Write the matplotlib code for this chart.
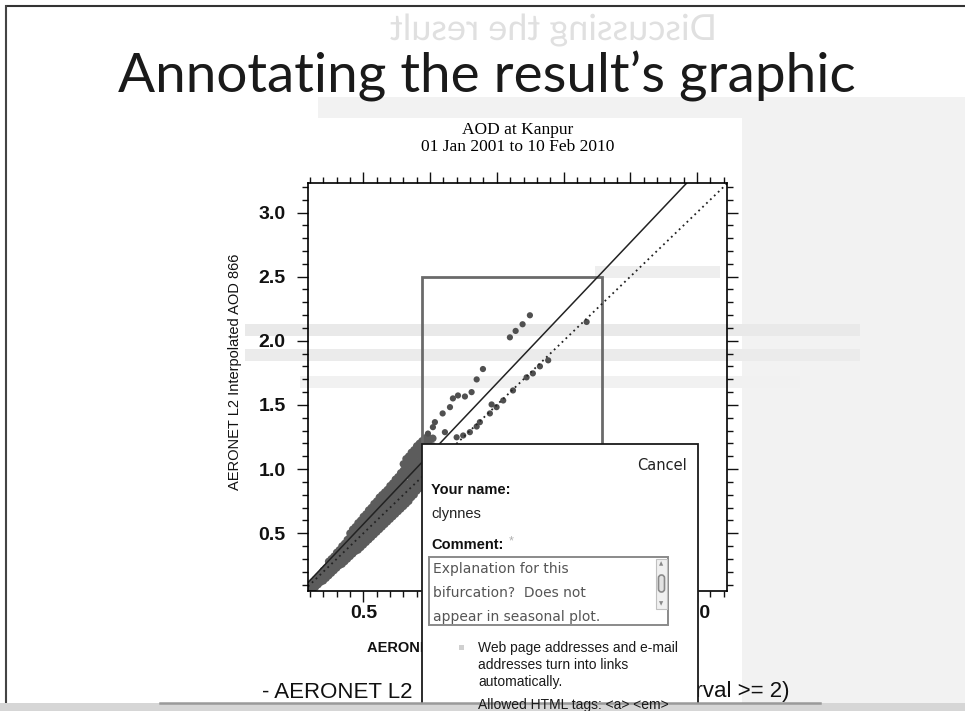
import numpy as np
import matplotlib.pyplot as plt
from matplotlib.patches import Rectangle, FancyBboxPatch, PathPatch
from matplotlib.textpath import TextPath
from matplotlib.font_manager import FontProperties
from matplotlib.transforms import Affine2D
from matplotlib.ticker import MultipleLocator

W, H = 965, 711

# -------------------------------
# Data
# -------------------------------
x_limits = (0.085, 3.225)
y_limits = (0.05, 3.23)
major_ticks = [0.5, 1.0, 1.5, 2.0, 2.5, 3.0]
x_tick_labels = ["0.5", "", "", "", "", "3.0"]   # the rest sit under the dialog
y_tick_labels = ["0.5", "1.0", "1.5", "2.0", "2.5", "3.0"]

# dense band below the bifurcation: (x, [y values])
band_columns = [
    (0.10, [0.06, 0.08]),
    (0.12, [0.07, 0.10, 0.12]),
    (0.14, [0.08, 0.11, 0.14]),
    (0.16, [0.10, 0.13, 0.16]),
    (0.18, [0.12, 0.15, 0.18]),
    (0.20, [0.13, 0.17, 0.21]),
    (0.22, [0.15, 0.19, 0.23]),
    (0.24, [0.17, 0.21, 0.25, 0.28]),
    (0.26, [0.19, 0.23, 0.27, 0.30]),
    (0.28, [0.21, 0.25, 0.29, 0.32]),
    (0.30, [0.23, 0.27, 0.31, 0.35]),
    (0.32, [0.25, 0.29, 0.33, 0.37]),
    (0.34, [0.26, 0.31, 0.36, 0.40]),
    (0.36, [0.28, 0.33, 0.38, 0.42]),
    (0.38, [0.30, 0.35, 0.40, 0.45]),
    (0.40, [0.32, 0.37, 0.42, 0.47, 0.50]),
    (0.42, [0.34, 0.39, 0.44, 0.49, 0.53]),
    (0.44, [0.36, 0.41, 0.46, 0.51, 0.55]),
    (0.46, [0.37, 0.43, 0.49, 0.54, 0.58]),
    (0.48, [0.39, 0.45, 0.51, 0.56, 0.60]),
    (0.50, [0.41, 0.47, 0.53, 0.58, 0.63]),
    (0.52, [0.43, 0.49, 0.55, 0.60, 0.65]),
    (0.54, [0.45, 0.51, 0.57, 0.63, 0.68]),
    (0.56, [0.47, 0.53, 0.59, 0.65, 0.70]),
    (0.58, [0.49, 0.55, 0.61, 0.67, 0.73]),
    (0.60, [0.51, 0.57, 0.63, 0.69, 0.75]),
    (0.62, [0.53, 0.59, 0.65, 0.72, 0.78]),
    (0.64, [0.55, 0.61, 0.67, 0.74, 0.80]),
    (0.66, [0.57, 0.63, 0.70, 0.76, 0.82]),
    (0.68, [0.59, 0.65, 0.72, 0.78, 0.84]),
    (0.70, [0.61, 0.67, 0.74, 0.81, 0.87]),
    (0.72, [0.63, 0.70, 0.76, 0.83, 0.89]),
    (0.74, [0.65, 0.72, 0.79, 0.86, 0.92]),
    (0.76, [0.67, 0.74, 0.81, 0.88, 0.94]),
    (0.78, [0.69, 0.76, 0.83, 0.90, 0.97]),
    (0.80, [0.71, 0.78, 0.85, 0.92, 0.99, 1.04]),
    (0.82, [0.73, 0.80, 0.87, 0.95, 1.02, 1.08]),
    (0.84, [0.75, 0.82, 0.89, 0.97, 1.04, 1.10]),
    (0.86, [0.78, 0.85, 0.92, 0.99, 1.06, 1.13]),
    (0.88, [0.80, 0.87, 0.94, 1.01, 1.08, 1.15]),
    (0.90, [0.83, 0.90, 0.97, 1.04, 1.11, 1.18]),
    (0.92, [0.85, 0.92, 0.99, 1.06, 1.13, 1.20]),
    (0.94, [0.88, 0.95, 1.02, 1.09, 1.16, 1.22]),
    (0.96, [0.92, 0.99, 1.06, 1.13, 1.20, 1.24]),
    (0.98, [1.05, 1.12, 1.19, 1.25]),
    (1.00, [1.12, 1.18, 1.23]),
    (1.02, [1.18, 1.24]),
]
band_x = [c[0] for c in band_columns for _ in c[1]]
band_y = [y for c in band_columns for y in c[1]]

# upper branch of the bifurcation
upper_x = [0.984, 1.021, 1.036, 1.094, 1.111, 1.149, 1.171, 1.209, 1.261,
           1.311, 1.349, 1.396, 1.598, 1.641, 1.693, 1.748]
upper_y = [1.277, 1.327, 1.366, 1.434, 1.288, 1.483, 1.551, 1.574, 1.566,
           1.600, 1.699, 1.780, 2.027, 2.077, 2.129, 2.199]

# lower branch (close to 1:1)
lower_x = [1.199, 1.248, 1.298, 1.349, 1.373, 1.448, 1.461, 1.498, 1.548,
           1.621, 1.723, 1.770, 1.823, 1.885, 2.173]
lower_y = [1.248, 1.262, 1.288, 1.332, 1.366, 1.434, 1.504, 1.483, 1.535,
           1.613, 1.715, 1.746, 1.801, 1.848, 2.147]

fit_slope, fit_intercept = 1.097, 0.023
zoom_box = (0.94, 1.19, 2.29, 2.50)   # x0, y0, x1, y1

slide_title = "Annotating the result\u2019s graphic"
ghost_title = "Discussing the result"
plot_title = ["AOD at Kanpur", "01 Jan 2001 to 10 Feb 2010"]
y_label = "AERONET L2 Interpolated AOD 866"
comment_lines = ["Explanation for this", "bifurcation?  Does not", "appear in seasonal plot."]
help_lines = ["Web page addresses and e-mail", "addresses turn into links", "automatically."]

# -------------------------------
# Figure and pixel-space layers
# -------------------------------
fig = plt.figure(figsize=(W / 100, H / 100), dpi=100)
fig.patch.set_facecolor("white")

bg = fig.add_axes([0, 0, 1, 1], zorder=0)
bg.set_xlim(0, W)
bg.set_ylim(H, 0)
bg.axis("off")

# ghost panels from the page behind
bg.add_patch(Rectangle((318, 97), W - 318, 606, facecolor="#f2f2f2", edgecolor="none"))
bg.add_patch(Rectangle((215, 118), 527, 585, facecolor="white", edgecolor="none"))
for y0, x0, x1, c in [(330, 245, 860, "#e9e9e9"), (355, 245, 860, "#ebebeb"),
                      (382, 300, 800, "#f1f1f1"), (272, 595, 720, "#eeeeee")]:
    bg.add_patch(Rectangle((x0, y0 - 6), x1 - x0, 12, facecolor=c, edgecolor="none"))

# mirrored show-through title
tp = TextPath((0, 0), ghost_title, size=36, prop=FontProperties(family="Lato"))
tr = Affine2D().scale(-1, -1).translate(717, 40) + bg.transData
bg.add_patch(PathPatch(tp, transform=tr, facecolor="#e0e0e0", edgecolor="none"))

# slide frame
bg.plot([8, W], [6, 6], color="#333333", lw=1.5)
bg.plot([6, 6], [6, 702], color="#444444", lw=1.5)

bg.text(487, 76, slide_title, ha="center", va="center", fontsize=39.5,
        family="Lato", color="#1a1a1a")
bg.text(517.5, 130, plot_title[0], ha="center", va="center", fontsize=12.5,
        family="Liberation Serif", color="#000000")
bg.text(517.5, 147, plot_title[1], ha="center", va="center", fontsize=12.5,
        family="Liberation Serif", color="#000000")
bg.text(235, 372, y_label, rotation=90, ha="center", va="center", fontsize=10.5,
        family="Liberation Sans", color="#111111")
bg.text(367, 648, "AERONET L2", ha="left", va="center", fontsize=10.5,
        family="Liberation Sans", fontweight="bold", color="#111111")
bg.text(262, 692, "- AERONET L2", ha="left", va="center", fontsize=16,
        family="Liberation Sans", color="#111111")
bg.text(790, 692, "(interval >= 2)", ha="right", va="center", fontsize=16,
        family="Liberation Sans", color="#111111")

# -------------------------------
# Scatter plot
# -------------------------------
ax = fig.add_axes([308 / W, (H - 591) / H, 419 / W, 408 / H], zorder=1)
ax.patch.set_alpha(0)
ax.set_xlim(*x_limits)
ax.set_ylim(*y_limits)

ax.scatter(band_x, band_y, s=30, color="#5c5c5c", edgecolors="none")
ax.scatter(upper_x, upper_y, s=20, color="#505050", edgecolors="none")
ax.scatter(lower_x, lower_y, s=20, color="#505050", edgecolors="none")

line_x = np.array(x_limits)
ax.plot(line_x, fit_slope * line_x + fit_intercept, color="#222222", lw=1.1)
ax.plot(line_x, line_x, color="#222222", lw=1.3, linestyle=(0, (1, 2)))

x0, y0, x1, y1 = zoom_box
ax.add_patch(Rectangle((x0, y0), x1 - x0, y1 - y0, facecolor="none",
                       edgecolor="#6a6a6a", lw=2))

ax.xaxis.set_minor_locator(MultipleLocator(0.1))
ax.yaxis.set_minor_locator(MultipleLocator(0.1))
ax.set_xticks(major_ticks)
ax.set_yticks(major_ticks)
ax.set_xticklabels(x_tick_labels)
ax.set_yticklabels(y_tick_labels)
ax.tick_params(which="both", direction="out", top=True, right=True, width=1.0, color="#111111")
ax.tick_params(which="major", length=8)
ax.tick_params(which="minor", length=4)
ax.tick_params(axis="y", pad=8)
ax.tick_params(axis="x", pad=2)
for lab in ax.get_xticklabels() + ax.get_yticklabels():
    lab.set_fontfamily("Liberation Sans")
    lab.set_fontweight("bold")
    lab.set_fontsize(14)
    lab.set_color("#111111")
for sp in ax.spines.values():
    sp.set_linewidth(1.2)

# -------------------------------
# Comment dialog overlay
# -------------------------------
ui = fig.add_axes([0, 0, 1, 1], zorder=2)
ui.set_xlim(0, W)
ui.set_ylim(H, 0)
ui.axis("off")
ui.patch.set_alpha(0)

ui.add_patch(Rectangle((422, 444), 275.5, 280, facecolor="white", edgecolor="#1a1a1a", lw=1.3))
ui.text(687, 466, "Cancel", ha="right", va="center", fontsize=10.5,
        family="DejaVu Sans", color="#222222")
ui.text(431, 490, "Your name:", ha="left", va="center", fontsize=10.5,
        family="Liberation Sans", fontweight="bold", color="#111111")
ui.text(431, 514, "clynnes", ha="left", va="center", fontsize=10.5,
        family="Liberation Sans", color="#222222")
ui.text(431, 545, "Comment:", ha="left", va="center", fontsize=10.5,
        family="Liberation Sans", fontweight="bold", color="#111111")
ui.text(509, 541, "*", ha="left", va="center", fontsize=9,
        family="Liberation Sans", color="#b0b0b0")

ui.add_patch(Rectangle((429, 557), 239, 68, facecolor="white", edgecolor="#8a8a8a", lw=1.4))
for i, line in enumerate(comment_lines):
    ui.text(433, 569.5 + 23.5 * i, line, ha="left", va="center", fontsize=10,
            family="DejaVu Sans", color="#555555")

# scrollbar
ui.add_patch(Rectangle((656, 559), 11, 50, facecolor="#f0f0f0", edgecolor="#c0c0c0", lw=0.8))
ui.text(661.5, 564, "\u25B2", ha="center", va="center", fontsize=4, color="#888888")
ui.text(661.5, 604, "\u25BC", ha="center", va="center", fontsize=4, color="#888888")
ui.add_patch(FancyBboxPatch((658.5, 575), 6, 17, boxstyle="round,pad=0,rounding_size=3",
                            facecolor="#e2e2e2", edgecolor="#8a8a8a", lw=1.2))

ui.add_patch(Rectangle((459, 645), 5, 5, facecolor="#d0d0d0", edgecolor="none"))
for i, line in enumerate(help_lines):
    ui.text(478, 648 + 16.8 * i, line, ha="left", va="center", fontsize=10,
            family="Liberation Sans", color="#1a1a1a")
ui.text(478, 705, "Allowed HTML tags: <a> <em>", ha="left", va="center", fontsize=10,
        family="Liberation Sans", color="#1a1a1a")

# bottom edge of the scanned slide
ui.add_patch(Rectangle((0, 702.5), W, 9, facecolor="#d6d6d6", edgecolor="none"))
ui.plot([160, 820], [703, 703], color="#9a9a9a", lw=1.8)

fig.savefig("out.png", dpi=100)
